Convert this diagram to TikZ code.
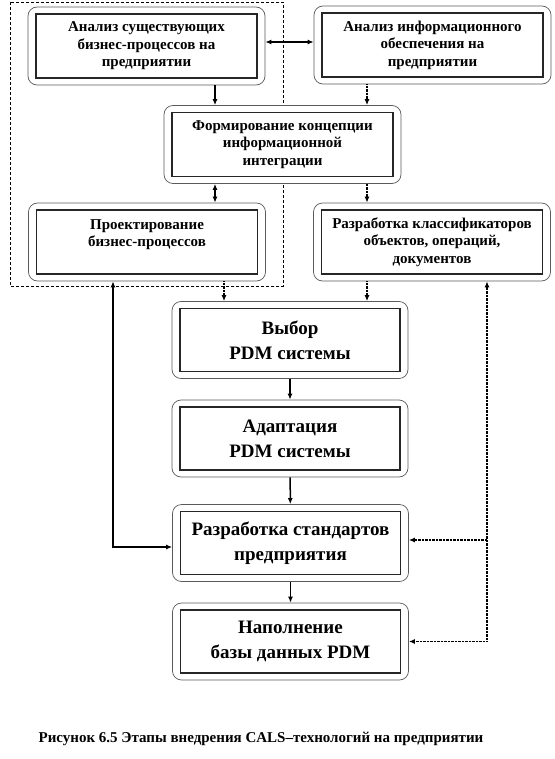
\documentclass[tikz,border=0pt]{standalone}
\usepackage{fontspec}
\setmainfont{Liberation Serif}
\usetikzlibrary{arrows.meta}
\definecolor{framegray}{RGB}{90,90,90}

\begin{document}
\begin{tikzpicture}[
        x=1bp,y=-1bp,
        every node/.style={align=center,font=\bfseries},
        stage/.style={draw=framegray,fill=white,line width=0.7bp,rounded corners=9bp,
                   minimum width=237bp,minimum height=78bp,inner sep=0pt,
                   font=\bfseries\fontsize{15bp}{17.5bp}\selectfont,
                   path picture={\draw[sharp corners,line width=1.1bp,black!85]
                     ([shift={(8bp,-7bp)}]path picture bounding box.north west) rectangle
                     ([shift={(-8bp,7bp)}]path picture bounding box.south east);}},
        bigstage/.style={stage,minimum width=236bp,minimum height=77bp,
                   font=\bfseries\fontsize{19bp}{25bp}\selectfont},
        arrow/.style={-{Latex[length=6bp,width=5bp]},line width=1.5bp},
        twoway/.style={{Latex[length=6bp,width=5bp]}-{Latex[length=6bp,width=5bp]}},
        dotarrow/.style={arrow,dash pattern=on 0.8bp off 0.6bp},
        group/.style={dash pattern=on 3bp off 2bp,line width=0.6bp}
    ]
        \useasboundingbox (0,0) rectangle (555,759);
        \draw[group] (10,2) rectangle (283,286);
        \node[stage] (exist) at (146.5,46) {Анализ существующих\\бизнес-процессов на\\предприятии};
        \node[stage] (info) at (432.5,45) {Анализ информационного\\обеспечения на\\предприятии};
        \node[stage] (concept) at (282.5,144.5) {Формирование концепции\\информационной\\интеграции};
        \node[stage] (design) at (147,242) {Проектирование\\бизнес-процессов\\~};
        \node[stage] (classif) at (432,242) {Разработка классификаторов\\объектов, операций,\\документов};
        \node[bigstage] (choice) at (290,340) {Выбор\\PDM системы};
        \node[bigstage] (adapt) at (290,438.5) {Адаптация\\PDM системы};
        \node[bigstage] (standard) at (290.5,543) {Разработка стандартов\\предприятия};
        \node[bigstage] (fill) at (290.5,641.5) {Наполнение\\базы данных PDM};
        \node[font=\bfseries\fontsize{15bp}{18bp}\selectfont] (caption) at (261,739)
            {Рисунок 6.5 Этапы внедрения CALS–технологий на предприятии};
        % columns and rows of the connectors
        \coordinate (colA) at (215,0);
        \coordinate (colB) at (367,0);
        \coordinate (colC) at (224,0);
        \coordinate (loopL) at (113,0);
        \coordinate (loopR) at (487,0);
        \draw[arrow,twoway] ([yshift=4bp]exist.east) -- ([yshift=4bp]exist.east -| info.west);
        \draw[arrow] (exist.south -| colA) -- (concept.north -| colA);
        \draw[dotarrow] (info.south -| colB) -- (concept.north -| colB);
        \draw[arrow,twoway] (concept.south -| colA) -- (design.north -| colA);
        \draw[dotarrow] (concept.south -| colB) -- (classif.north -| colB);
        \draw[dotarrow] (design.south -| colC) -- (choice.north -| colC);
        \draw[dotarrow] (classif.south -| colB) -- (choice.north -| colB);
        \draw[arrow] (choice) -- (adapt);
        \draw[arrow] (adapt) -- (standard);
        \draw[arrow] (standard) -- (fill);
        \draw[arrow,twoway] ([yshift=-4bp]standard.west) -| (design.south -| loopL);
        \draw[dotarrow,twoway] (fill.east) -| (classif.south -| loopR);
        \draw[dotarrow] ([yshift=3bp]standard.east -| loopR) -- ([yshift=3bp]standard.east);
    \end{tikzpicture}
\end{document}
